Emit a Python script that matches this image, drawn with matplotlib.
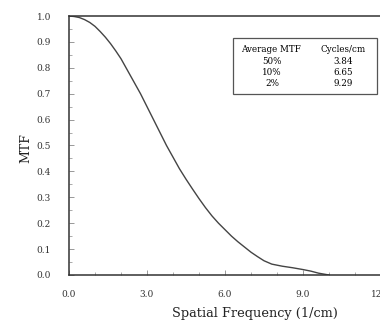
import matplotlib.pyplot as plt
from matplotlib.ticker import MultipleLocator

# MTF curve
freq = [0.0, 0.2, 0.4, 0.6, 0.8, 1.0, 1.2, 1.4, 1.6, 1.8, 2.0, 2.25, 2.5, 2.75,
        3.0, 3.25, 3.5, 3.75, 4.0, 4.25, 4.5, 4.75, 5.0, 5.25, 5.5, 5.75,
        6.0, 6.25, 6.5, 6.75, 7.0, 7.25, 7.5, 7.8, 8.2, 8.6, 9.0, 9.3, 9.6, 10.0]
mtf = [1.0, 0.998, 0.994, 0.986, 0.975, 0.96, 0.94, 0.918, 0.893, 0.865,
       0.835, 0.79, 0.745, 0.70, 0.65, 0.60, 0.55, 0.50, 0.455, 0.41,
       0.37, 0.332, 0.295, 0.26, 0.228, 0.20, 0.175, 0.15, 0.128, 0.108,
       0.088, 0.071, 0.055, 0.042, 0.034, 0.028, 0.021, 0.015, 0.007, 0.0]

levels = ["50%", "10%", "2%"]
cycles = ["3.84", "6.65", "9.29"]

plt.rcParams["font.family"] = "DejaVu Serif"

fig = plt.figure(figsize=(3.8, 3.26), dpi=100)
ax = fig.add_axes([69 / 380, 51 / 326, 312 / 380, 259 / 326])

ax.plot(freq, mtf, color="#444444", lw=1.0)

ax.set_xlim(0, 12)
ax.set_ylim(0, 1.0)
ax.xaxis.set_major_locator(MultipleLocator(3))
ax.xaxis.set_minor_locator(MultipleLocator(1))
ax.yaxis.set_major_locator(MultipleLocator(0.1))
ax.yaxis.set_minor_locator(MultipleLocator(0.05))
ax.xaxis.set_major_formatter(lambda v, p: f"{v:.1f}")
ax.yaxis.set_major_formatter(lambda v, p: f"{v:.1f}")
ax.tick_params(which="both", direction="in", colors="#888888", labelcolor="#333333",
               labelsize=6.5, top=False, right=False)
ax.tick_params(which="major", length=3.5, width=0.6)
ax.tick_params(which="minor", length=2.5, width=0.5)
ax.tick_params(axis="y", pad=13)
ax.tick_params(axis="x", pad=11)

for side in ["left", "bottom", "top"]:
    ax.spines[side].set_color("#333333")
    ax.spines[side].set_linewidth(1.1)
ax.spines["right"].set_visible(False)

ax.set_xlabel("Spatial Frequency (1/cm)", fontsize=9.3, color="#222222")
ax.xaxis.set_label_coords(0.595, -0.122)
ax.set_ylabel("MTF", fontsize=9, color="#222222")
ax.yaxis.set_label_coords(-0.118, 0.49)

# summary box
box = plt.Rectangle((233, 326 - 94), 144, 56, transform=None, fill=False,
                    edgecolor="#555555", lw=0.9)
fig.add_artist(box)
fs = 6.3
fig.text(271 / 380, 1 - 50 / 326, "Average MTF", ha="center", va="center", fontsize=fs)
fig.text(343 / 380, 1 - 50 / 326, "Cycles/cm", ha="center", va="center", fontsize=fs)
for i, (lv, cy) in enumerate(zip(levels, cycles)):
    y = 1 - (61 + 11 * i) / 326
    fig.text(272 / 380, y, lv, ha="center", va="center", fontsize=fs)
    fig.text(343 / 380, y, cy, ha="center", va="center", fontsize=fs)

fig.savefig("out.png", dpi=100)
